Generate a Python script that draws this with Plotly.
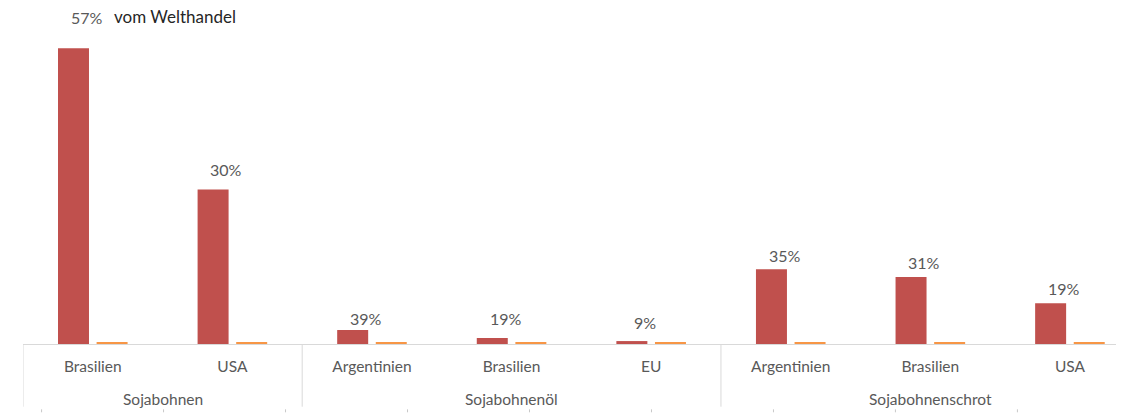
import plotly.graph_objects as go

# Soybean trade: leading exporters per product (Mio. t) and their share of world trade
products = ["Sojabohnen", "Sojabohnenöl", "Sojabohnenschrot"]
countries = ["Brasilien", "USA",
             "Argentinien", "Brasilien", "EU",
             "Argentinien", "Brasilien", "USA"]
product_of = [0, 0, 1, 1, 1, 2, 2, 2]
exports_mt = [91.0, 47.5, 4.3, 1.85, 0.9, 23.0, 20.6, 12.5]
reference_mt = [0.5, 0.5, 0.5, 0.5, 0.5, 0.5, 0.5, 0.5]
share_pct = [57, 30, 39, 19, 9, 35, 31, 19]

RED = "#C0504D"
ORANGE = "#F79646"
GRID = "#D9D9D9"
LABEL = "#595959"
FONT = "Lato, Calibri, Arial, sans-serif"

x = list(range(len(countries)))

fig = go.Figure()
fig.add_trace(go.Bar(x=x, y=exports_mt, marker=dict(color=RED, line=dict(width=0)),
                     showlegend=False, hoverinfo="skip"))
fig.add_trace(go.Bar(x=x, y=reference_mt, marker=dict(color=ORANGE, line=dict(width=0)),
                     showlegend=False, hoverinfo="skip"))

# share labels above the bars (pixel lift per label)
label_lift = [31, 20, 12, 19, 19, 14, 15, 15]
annotations = []
for i, (v, s) in enumerate(zip(exports_mt, share_pct)):
    annotations.append(dict(x=i, y=v, xref="x", yref="y", text=f"{s}%",
                            showarrow=False, xshift=-6, yshift=label_lift[i],
                            yanchor="middle", xanchor="center",
                            font=dict(family=FONT, size=16, color=LABEL)))
annotations.append(dict(x=0, y=exports_mt[0], xref="x", yref="y", text="vom Welthandel",
                        showarrow=False, xshift=19, yshift=label_lift[0] + 1,
                        yanchor="middle", xanchor="left",
                        font=dict(family=FONT, size=17, color="#262626")))

# product group labels and dividers under the category axis
shapes = []
bounds = []
for g in range(len(products)):
    members = [i for i, p in enumerate(product_of) if p == g]
    lo, hi = members[0] - 0.5, members[-1] + 0.5
    bounds.append(lo)
    annotations.append(dict(x=(lo + hi) / 2, y=-0.167, xref="x", yref="paper",
                            text=products[g], showarrow=False, yanchor="middle",
                            font=dict(family=FONT, size=15.5, color=LABEL)))
for b in bounds:
    shapes.append(dict(type="line", xref="x", yref="paper", x0=b, x1=b,
                       y0=0, y1=-0.19, line=dict(color=GRID, width=1)))

# faint tick row of the outer frame along the bottom edge
for k in range(9):
    px = 0.017 + k * 0.1116
    shapes.append(dict(type="line", xref="paper", yref="paper", x0=px, x1=px,
                       y0=-0.198, y1=-0.207, line=dict(color="#C8C8C8", width=1)))

fig.update_layout(
    width=1122, height=414,
    margin=dict(l=23, r=6, t=14, b=70),
    paper_bgcolor="white", plot_bgcolor="white",
    barmode="group", bargap=0.447, bargroupgap=0.197,
    font=dict(family=FONT, color=LABEL),
    xaxis=dict(range=[-0.5, 7.33], tickvals=x, ticktext=countries,
               showline=True, linecolor=GRID, linewidth=1,
               showgrid=False, zeroline=False,
               ticks="outside", ticklen=8, tickcolor="rgba(0,0,0,0)",
               tickfont=dict(family=FONT, size=15.5, color=LABEL)),
    yaxis=dict(range=[0, 101.5], visible=False, showgrid=False, zeroline=False),
    annotations=annotations,
    shapes=shapes,
)

fig.write_html("out.html")
